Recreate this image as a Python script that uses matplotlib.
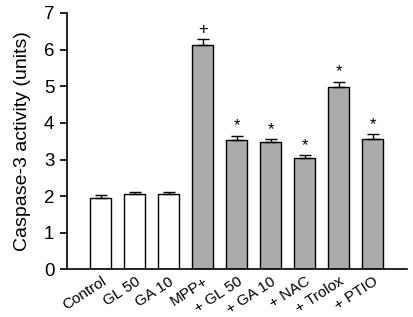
import numpy as np
import matplotlib.pyplot as plt
import matplotlib.transforms as mtransforms

# --- Data ---
labels = ["Control", "GL 50", "GA 10", "MPP+", "+ GL 50", "+ GA 10", "+ NAC", "+ Trolox", "+ PTIO"]
values = [1.96, 2.05, 2.06, 6.13, 3.53, 3.47, 3.05, 4.97, 3.57]
errors = [0.07, 0.07, 0.06, 0.16, 0.12, 0.09, 0.07, 0.16, 0.13]
marks = ["", "", "", "+", "*", "*", "*", "*", "*"]
colors = ["white"] * 3 + ["#ababab"] * 6

plt.rcParams["font.family"] = ["Liberation Sans", "DejaVu Sans"]

fig = plt.figure(figsize=(4.13, 3.17), dpi=100)
ax = fig.add_axes([0.162, 0.150, 0.823, 0.809])

x = np.arange(len(labels))
ax.bar(x, values, width=0.62, color=colors, edgecolor="black", linewidth=1.0,
       yerr=[np.zeros(len(values)), errors], capsize=4.5,
       error_kw=dict(ecolor="black", elinewidth=1.0, capthick=1.0))

# significance marks
for xi, v, e, m in zip(x, values, errors, marks):
    if m:
        ax.text(xi, v + e + 0.06, m, ha="center", va="bottom", fontsize=12)

ax.set_xlim(-1, 9)
ax.set_ylim(0, 7)
ax.set_yticks(range(0, 8))
ax.set_xticks(x)
ax.set_xticklabels(labels, rotation=33, ha="right", va="top",
                   rotation_mode="anchor", fontsize=11)
shift = mtransforms.ScaledTranslation(4 / 100, 0, fig.dpi_scale_trans)
for lab in ax.get_xticklabels():
    lab.set_transform(lab.get_transform() + shift)
ax.tick_params(axis="x", length=0, pad=3.5)
ax.tick_params(axis="y", direction="out", length=5, width=1.2, labelsize=13.5, pad=4)
ax.set_ylabel("Caspase-3 activity (units)", fontsize=14, labelpad=9)

for s in ["top", "right"]:
    ax.spines[s].set_visible(False)
for s in ["left", "bottom"]:
    ax.spines[s].set_linewidth(1.2)

plt.savefig("out.png", dpi=100)
